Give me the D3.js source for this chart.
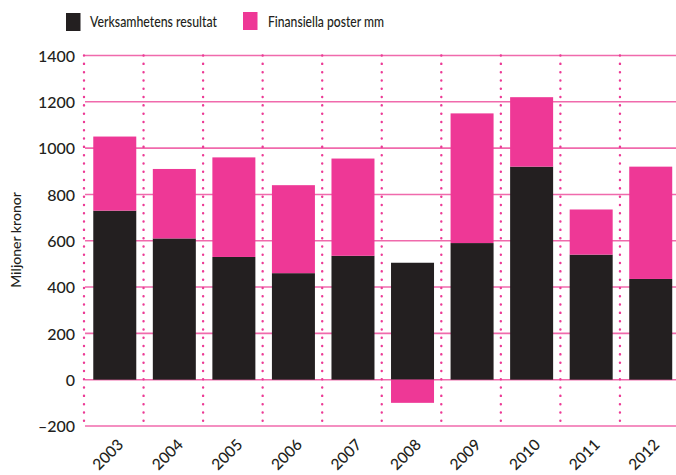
<!DOCTYPE html>
<html>
<head>
<meta charset="utf-8">
<script src="https://cdn.jsdelivr.net/npm/d3@7"></script>
<style>
  body { margin: 0; background: #fff; }
  text { font-family: Lato, "Noto Sans", sans-serif; fill: #231f20; }
</style>
</head>
<body>
<div id="chart"></div>
<script>
// chart data
var years = ["2003", "2004", "2005", "2006", "2007", "2008", "2009", "2010", "2011", "2012"];
var verksamhet = [730, 610, 530, 460, 535, 505, 590, 920, 540, 435];
var finansiella = [320, 300, 430, 380, 420, -100, 560, 300, 195, 485];
var yTicks = [-200, 0, 200, 400, 600, 800, 1000, 1200, 1400];
var seriesNames = ["Verksamhetens resultat", "Finansiella poster mm"];
var colors = ["#231f20", "#ee3896"];

var width = 676, height = 475;
var margin = { top: 55.5, left: 84, bottom: 49, right: -3.5 };

var svg = d3.select("#chart").append("svg")
  .attr("width", width)
  .attr("height", height);

// scales
var x = d3.scaleBand().domain(years).range([margin.left, width - margin.right]).padding(0);
var y = d3.scaleLinear().domain([-200, 1400]).range([height - margin.bottom, margin.top]);
var barW = 43;

// horizontal grid lines
svg.append("g")
  .selectAll("line")
  .data(yTicks)
  .enter()
  .append("line")
  .attr("x1", margin.left + 1)
  .attr("x2", width)
  .attr("y1", function(d) { return y(d); })
  .attr("y2", function(d) { return y(d); })
  .style("stroke", "#f06aac")
  .style("stroke-width", 1.6);

// vertical dotted lines
svg.append("g")
  .selectAll("line")
  .data(years)
  .enter()
  .append("line")
  .attr("x1", function(d) { return x(d); })
  .attr("x2", function(d) { return x(d); })
  .attr("y1", y(1400))
  .attr("y2", y(-200))
  .style("stroke", "#ec3a95")
  .style("stroke-width", 2.4)
  .style("stroke-linecap", "round")
  .style("stroke-dasharray", "0.1,8.2");

// bars - verksamhetens resultat
svg.append("g")
  .selectAll("rect")
  .data(years)
  .enter()
  .append("rect")
  .attr("x", function(d) { return x(d) + (x.bandwidth() - barW) / 2 + 1; })
  .attr("width", barW)
  .attr("y", function(d, i) { return y(verksamhet[i]); })
  .attr("height", function(d, i) { return y(0) - y(verksamhet[i]); })
  .style("fill", colors[0]);

// bars - finansiella poster (stacked, negative goes below zero)
svg.append("g")
  .selectAll("rect")
  .data(years)
  .enter()
  .append("rect")
  .attr("x", function(d) { return x(d) + (x.bandwidth() - barW) / 2 + 1; })
  .attr("width", barW)
  .attr("y", function(d, i) {
    return finansiella[i] >= 0 ? y(verksamhet[i] + finansiella[i]) : y(0);
  })
  .attr("height", function(d, i) {
    return finansiella[i] >= 0
      ? y(verksamhet[i]) - y(verksamhet[i] + finansiella[i])
      : y(finansiella[i]) - y(0);
  })
  .style("fill", colors[1]);

// y axis
var yAxis = d3.axisLeft(y).tickValues(yTicks).tickSize(0).tickPadding(0)
  .tickFormat(function(d) { return d < 0 ? "\u2013" + Math.abs(d) : d; });
var gy = svg.append("g")
  .attr("transform", "translate(" + (margin.left - 9) + ",0)")
  .call(yAxis);
gy.select(".domain").remove();
gy.selectAll("text")
  .style("font-size", "16px")
  .style("font-weight", 500)
  .attr("dy", "0.36em");

// y label
svg.append("text")
  .attr("transform", "translate(21," + 240 + ") rotate(-90)")
  .style("text-anchor", "middle")
  .style("font-size", "14px")
  .style("font-weight", 500)
  .text("Miljoner kronor");

// x axis labels
var xAxis = d3.axisBottom(x).tickSize(0).tickPadding(0);
var gx = svg.append("g")
  .attr("transform", "translate(0," + (y(-200) + 12) + ")")
  .call(xAxis);
gx.select(".domain").remove();
gx.selectAll("text")
  .style("font-size", "15.5px")
  .style("font-weight", 500)
  .style("text-anchor", "end")
  .attr("dy", "0.7em")
  .attr("transform", "translate(3,0) rotate(-45)");

// legend
var legendLen = [127, 116];
var legend = svg.append("g")
  .selectAll("g")
  .data(seriesNames)
  .enter()
  .append("g")
  .attr("transform", function(d, i) { return "translate(" + (66 + i * 177) + ",13)"; });
legend.append("rect")
  .attr("width", 14.5)
  .attr("height", 18)
  .attr("y", function(d, i) { return i ? -1 : 0; })
  .style("fill", function(d, i) { return colors[i]; });
legend.append("text")
  .attr("x", function(d, i) { return i ? 25 : 24; })
  .attr("y", 14)
  .attr("textLength", function(d, i) { return legendLen[i]; })
  .attr("lengthAdjust", "spacingAndGlyphs")
  .style("font-size", "15px")
  .style("font-weight", 500)
  .text(function(d) { return d; });
</script>
</body>
</html>
